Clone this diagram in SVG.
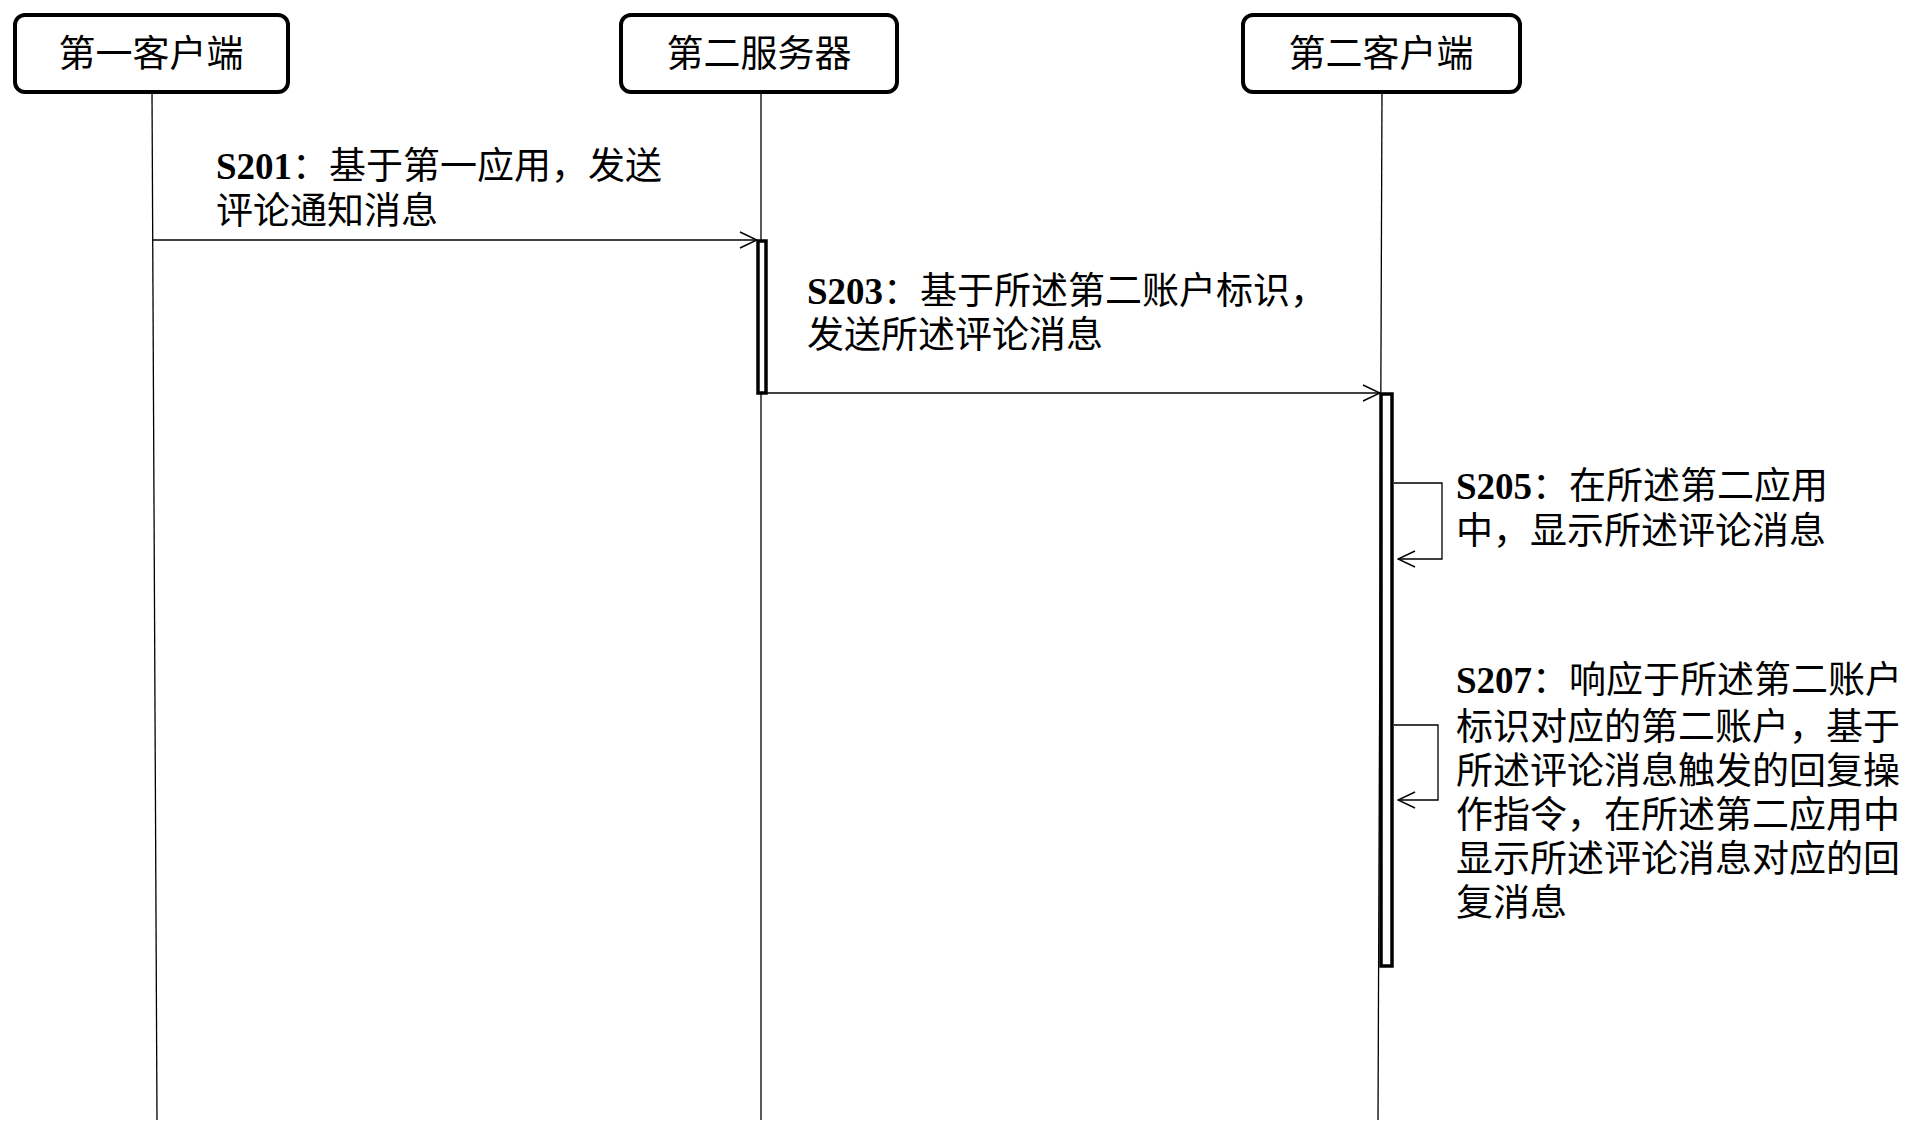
<svg xmlns="http://www.w3.org/2000/svg" width="1921" height="1135" viewBox="0 0 1921 1135">
<defs>
<style>
.box{fill:#fff;stroke:#000;stroke-width:4}
.ll{stroke:#000;stroke-width:1.3;fill:none}
.bar{fill:#fff;stroke:#000;stroke-width:3.5}
.t{font-family:"Liberation Serif","Noto Sans CJK SC",serif;font-size:37px;fill:#000}
.h{font-family:"Liberation Serif","Noto Sans CJK SC",serif;font-size:37px;fill:#000;text-anchor:middle}
</style>
<marker id="a" viewBox="0 0 20 20" refX="19" refY="10" markerWidth="20" markerHeight="20" markerUnits="userSpaceOnUse" orient="auto"><path d="M2 2 L19 10 L2 18" fill="none" stroke="#000" stroke-width="1.5"/></marker>
</defs>
<rect width="1921" height="1135" fill="#fff"/>
<g id="connectors">
<line class="ll" x1="152" y1="92" x2="157" y2="1120"/>
<line class="ll" x1="761" y1="92" x2="761" y2="1120"/>
<line class="ll" x1="1382" y1="92" x2="1378" y2="1120"/>
<line class="ll" x1="152" y1="240" x2="757" y2="240" marker-end="url(#a)"/>
<line class="ll" x1="767" y1="393" x2="1380" y2="393" marker-end="url(#a)"/>
<polyline class="ll" points="1394,483 1442,483 1442,559 1398,559" marker-end="url(#a)"/>
<polyline class="ll" points="1394,725 1438,725 1438,800 1398,800" marker-end="url(#a)"/>
</g>
<g id="bar2"><rect class="bar" x="758" y="241" width="8" height="152"/></g>
<g id="bar3"><rect class="bar" x="1381" y="394" width="11" height="572"/></g>
<g id="n1"><rect class="box" x="15" y="15" width="273" height="77" rx="10"/><text class="h" x="151" y="67">第一客户端</text></g>
<g id="n2"><rect class="box" x="621" y="15" width="276" height="77" rx="10"/><text class="h" x="759" y="67">第二服务器</text></g>
<g id="n3"><rect class="box" x="1243" y="15" width="277" height="77" rx="10"/><text class="h" x="1381" y="67">第二客户端</text></g>
<g id="labels">
<text class="t" x="216" y="179"><tspan font-weight="bold">S201</tspan>：基于第一应用，发送</text>
<text class="t" x="216" y="224">评论通知消息</text>
<text class="t" x="807" y="304"><tspan font-weight="bold">S203</tspan>：基于所述第二账户标识，</text>
<text class="t" x="807" y="348">发送所述评论消息</text>
<text class="t" x="1456" y="499"><tspan font-weight="bold">S205</tspan>：在所述第二应用</text>
<text class="t" x="1456" y="544">中，显示所述评论消息</text>
<text class="t" x="1456" y="693"><tspan font-weight="bold">S207</tspan>：响应于所述第二账户</text>
<text class="t" x="1456" y="740">标识对应的第二账户，基于</text>
<text class="t" x="1456" y="784">所述评论消息触发的回复操</text>
<text class="t" x="1456" y="828">作指令，在所述第二应用中</text>
<text class="t" x="1456" y="872">显示所述评论消息对应的回</text>
<text class="t" x="1456" y="916">复消息</text>
</g>
</svg>
